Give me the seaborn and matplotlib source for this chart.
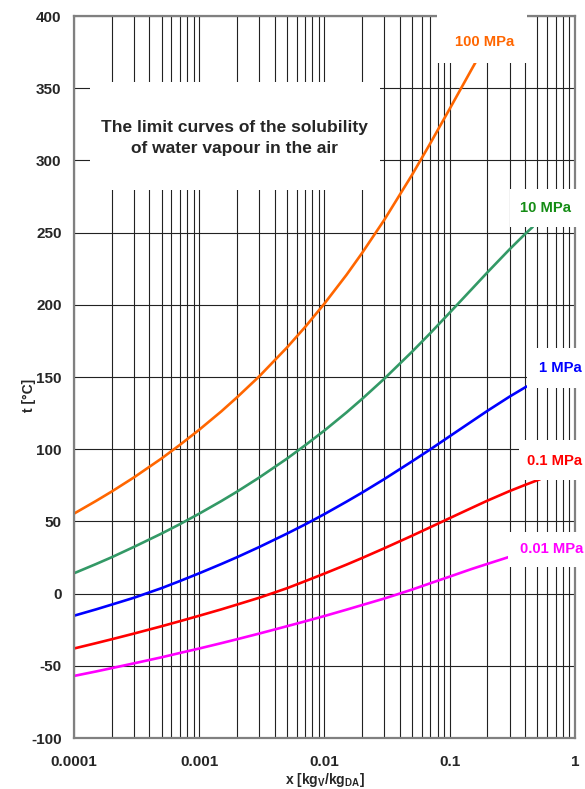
import matplotlib
matplotlib.use("Agg")
import matplotlib.pyplot as plt
import matplotlib.ticker as mticker
from matplotlib.patches import Rectangle
import seaborn as sns
import pandas as pd

sns.set_style("white")
plt.rcParams['font.family'] = ['Liberation Sans', 'DejaVu Sans']
plt.rcParams['axes.unicode_minus'] = False
plt.rcParams['mathtext.fontset'] = 'custom'
plt.rcParams['mathtext.rm'] = 'Liberation Sans:bold'
plt.rcParams['mathtext.bf'] = 'Liberation Sans:bold'

# values (x in kgV/kgDA, t in degC)
x_grid = [1e-4, 1.5e-4, 2e-4, 3e-4, 5e-4, 7e-4, 1e-3, 1.5e-3, 2e-3, 3e-3, 5e-3, 7e-3,
          0.01, 0.015, 0.02, 0.03, 0.05, 0.07, 0.1, 0.15, 0.2, 0.3]

x_100 = x_grid[:21] + [0.25, 0.265]
t_100 = [55.4, 64.2, 70.7, 80.4, 93.6, 103.0, 113.5, 126.2, 135.9, 150.3, 170.3, 184.6,
         200.9, 220.8, 236.0, 258.8, 290.0, 311.9, 335.8, 363.3, 382.6, 397.0, 400.0]

x_10 = x_grid + [0.4, 0.46]
t_10 = [14.1, 20.5, 25.2, 32.3, 41.6, 48.1, 55.4, 64.1, 70.6, 80.3, 93.4, 102.7,
        113.0, 125.5, 134.9, 148.8, 167.5, 180.4, 194.6, 210.9, 222.5, 238.4, 249.1, 254.0]

x_1 = x_grid + [0.41]
t_1 = [-15.3, -10.9, -7.6, -2.9, 3.8, 8.7, 14.1, 20.5, 25.2, 32.2, 41.5, 47.9,
       55.1, 63.7, 70.0, 79.3, 91.6, 99.9, 109.0, 119.3, 126.6, 136.4, 143.4]

x_01 = x_grid + [0.4, 0.5, 0.526]
t_01 = [-38.0, -34.3, -31.6, -27.7, -22.6, -19.1, -15.3, -10.9, -7.6, -2.9, 3.7, 8.6,
        13.9, 20.1, 24.7, 31.4, 40.1, 46.0, 52.3, 59.4, 64.4, 71.0, 75.3, 78.5, 79.2]

x_001 = x_grid
t_001 = [-57.0, -53.9, -51.6, -48.3, -44.1, -41.1, -38.0, -34.3, -31.6, -27.7, -22.6, -19.2,
         -15.5, -11.1, -7.9, -3.4, 2.8, 7.2, 11.8, 17.1, 20.6, 25.5]

labels = ['100 MPa', '10 MPa', '1 MPa', '0.1 MPa', '0.01 MPa']
line_colors = ['#FF6600', '#339966', '#0000FF', '#FF0000', '#FF00FF']
text_colors = ['#FF6600', '#148C14', '#0000FF', '#FF0000', '#FF00FF']
xs = [x_100, x_10, x_1, x_01, x_001]
ts = [t_100, t_10, t_1, t_01, t_001]

x_ticks = [1e-4, 1e-3, 1e-2, 1e-1, 1]
x_ticklabels = ['0.0001', '0.001', '0.01', '0.1', '1']

fig, ax = plt.subplots(figsize=(5.85, 7.89), dpi=100)
fig.subplots_adjust(left=0.1265, right=0.9829, bottom=0.0646, top=0.9797)

for xv, tv, c in zip(xs, ts, line_colors):
    df = pd.DataFrame({'x': xv, 't': tv})
    sns.lineplot(data=df, x='x', y='t', color=c, lw=1.9, sort=False, ax=ax, zorder=2)

ax.set_xscale('log')
ax.set_xlim(1e-4, 1)
ax.set_ylim(-100, 400)
ax.set_yticks(range(-100, 401, 50))
ax.set_xticks(x_ticks)
ax.set_xticklabels(x_ticklabels)
ax.xaxis.set_minor_locator(mticker.LogLocator(base=10, subs=range(2, 10)))
ax.xaxis.set_minor_formatter(mticker.NullFormatter())

ax.set_axisbelow(True)
ax.grid(which='both', axis='x', color='#222222', lw=0.8)
ax.grid(which='major', axis='y', color='#222222', lw=0.8)

for sp in ax.spines.values():
    sp.set_color('#808080')
    sp.set_linewidth(1.6)

ax.tick_params(axis='y', which='major', direction='out', length=5, width=0.8, color='black', pad=4)
ax.tick_params(axis='x', which='major', direction='out', length=4, width=0.8, color='black', pad=8)
ax.tick_params(axis='x', which='minor', length=0)
for lab in ax.get_xticklabels() + ax.get_yticklabels():
    lab.set_fontweight('bold')
    lab.set_fontsize(11)

ax.set_ylabel('t [°C]', fontsize=10, fontweight='bold')
ax.yaxis.set_label_coords(-0.075, 0.475)
ax.set_xlabel(r'x [kg$_\mathbf{V}$/kg$_\mathbf{DA}$]', fontsize=10, fontweight='bold', labelpad=2)

# title box
ax.add_patch(Rectangle((0.032, 0.759), 0.579, 0.150, transform=ax.transAxes,
                       facecolor='white', edgecolor='none', zorder=3))
ax.text(0.321, 0.831, 'The limit curves of the solubility\nof water vapour in the air',
        transform=ax.transAxes, ha='center', va='center', fontsize=12.5,
        fontweight='bold', linespacing=1.45, zorder=4)

# curve labels with white boxes
boxes = [(0.7246, 0.935, 0.18, 0.07), (0.870, 0.708, 0.16, 0.052), (0.904, 0.485, 0.13, 0.055),
         (0.888, 0.357, 0.14, 0.056), (0.866, 0.237, 0.16, 0.048)]
text_pos = [(0.820, 0.964), (0.942, 0.734), (0.970, 0.5125), (0.960, 0.384), (0.954, 0.262)]
for lab, tc, b, p in zip(labels, text_colors, boxes, text_pos):
    ax.add_patch(Rectangle(b[:2], b[2], b[3], transform=ax.transAxes, facecolor='white',
                           edgecolor='none', zorder=3, clip_on=False))
    ax.text(p[0], p[1], lab, transform=ax.transAxes, ha='center', va='center', color=tc,
            fontsize=10.7, fontweight='bold', zorder=4, clip_on=False)

plt.savefig('out.png', dpi=100)
plt.close()
